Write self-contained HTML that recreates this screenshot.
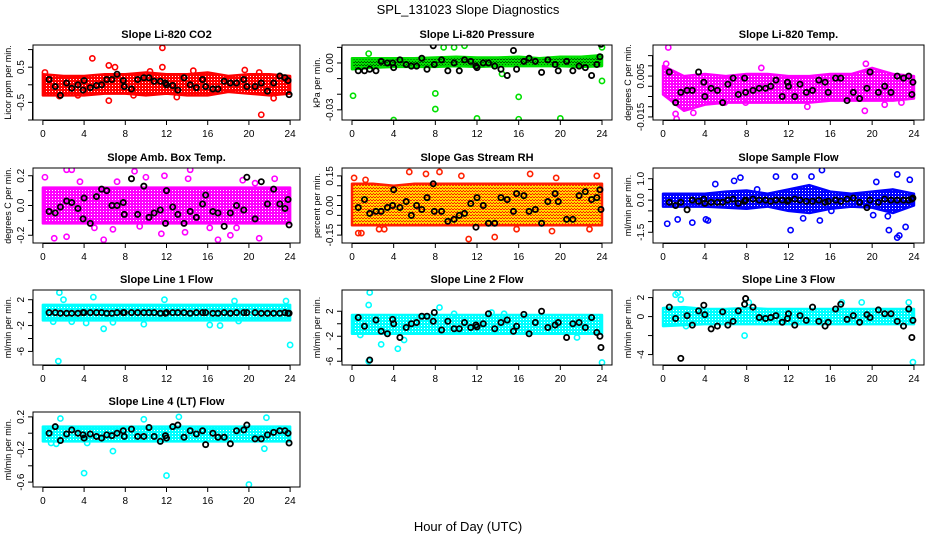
<!DOCTYPE html>
<html><head><meta charset="utf-8">
<style>
html,body{margin:0;padding:0;background:#fff;}
svg{display:block;font-family:"Liberation Sans",sans-serif;}
</style></head>
<body>
<svg id="chart" width="936" height="540" viewBox="0 0 936 540" xmlns="http://www.w3.org/2000/svg">
<text x="468" y="14" text-anchor="middle" font-size="13">SPL_131023  Slope Diagnostics</text>
<text x="468" y="531" text-anchor="middle" font-size="13">Hour of Day (UTC)</text>
</svg>
<script>
// shared data
const bandHours = [0,2,4,6,8,10,12,14,16,18,20,22,24];
const blackX = [0.6,1.2,1.7,2.3,2.8,3.4,3.9,4.0,4.6,5.2,5.7,6.2,6.7,7.2,7.8,7.9,8.6,9.2,9.8,10.3,10.8,11.4,11.9,12.0,12.6,13.1,13.7,14.3,14.9,15.5,15.8,16.5,17.0,17.6,18.2,18.8,19.5,19.8,20.6,21.2,21.8,22.4,23.0,23.5,23.8,23.9];
const xTicks = [0,4,8,12,16,20,24];

// Panel 1: CO2
const co2Lo = [-0.3,-0.3,-0.3,-0.25,-0.25,-0.3,-0.25,-0.3,-0.3,-0.2,-0.25,-0.3,-0.25];
const co2Hi = [0.3,0.25,0.25,0.3,0.3,0.35,0.3,0.3,0.35,0.25,0.3,0.3,0.25];
const co2OutX = [4.8,11.6,11.6,6.4,21.2,22.4,6.4,0.2,13,14.6,19.6,21,10.4,7,1.6,8.8,3.4];
const co2OutY = [0.75,1.05,0.5,-0.45,-0.85,-0.38,0.55,0.35,-0.35,0.4,0.42,0.35,0.38,0.5,-0.32,-0.3,-0.3];
const co2BlackY = [0.15,-0.05,-0.3,0.05,-0.1,0.0,-0.15,0.12,-0.08,-0.02,0.0,0.15,0.15,0.3,0.12,-0.05,-0.12,0.15,0.2,0.2,0.1,0.1,0.05,0.0,-0.02,-0.15,0.2,0.0,-0.08,0.15,-0.05,-0.12,-0.12,0.1,0.05,0.05,0.15,-0.05,-0.05,0.05,-0.18,0.05,0.25,0.2,0.12,-0.28];
const co2Ticks = [-1,-0.5,0,0.5,1];
const co2TickLabels = ["","-0.5","","0.5",""];

// Panel 2: Pressure
const prLo = [-0.004,-0.003,-0.0025,-0.0025,-0.0025,-0.002,-0.0025,-0.002,-0.002,-0.002,-0.002,-0.0025,-0.002];
const prHi = [0.003,0.003,0.003,0.003,0.0035,0.004,0.0035,0.0035,0.004,0.003,0.004,0.004,0.005];
const prOutX = [0.1,4,8,8,12,16,16,20,24,24,10.8,9.8,8.8,14.4,1.6];
const prOutY = [-0.021,-0.0365,-0.0295,-0.0195,-0.0355,-0.0217,-0.036,-0.0355,-0.0115,0.01,0.011,0.01,0.01,-0.007,0.006];
const prBlackY = [-0.005,-0.005,-0.004,-0.005,0.001,0.0,0.0,-0.003,0.002,-0.001,-0.002,-0.002,0.003,-0.004,0.011,-0.001,0.002,-0.005,0.0,-0.005,0.002,0.001,-0.002,-0.003,0.0,0.0,-0.002,-0.004,-0.008,0.008,-0.004,0.001,0.003,0.001,-0.006,0.002,-0.001,-0.005,0.001,-0.005,-0.002,-0.003,-0.008,-0.001,0.004,0.012];
const prTicks = [0.01,0,-0.01,-0.02,-0.03];
const prTickLabels = ["","0.00","","","-0.03"];

// Panel 3: Li-820 Temp
const ltLo = [-0.004,-0.012,-0.009,-0.008,-0.008,-0.008,-0.008,-0.008,-0.007,-0.007,-0.007,-0.007,-0.006];
const ltHi = [0.01,0.005,0.006,0.005,0.006,0.006,0.005,0.005,0.006,0.006,0.009,0.006,0.005];
const ltOutX = [0.5,0.3,1.2,1.3,2.9,9.4,13.8,19.3,19.4,21.2,22.8,7.9,5.9];
const ltOutY = [0.019,0.011,-0.0135,-0.016,-0.013,0.009,-0.010,-0.012,0.011,-0.009,-0.008,-0.008,-0.008];
const ltBlackY = [0.007,-0.008,-0.003,-0.002,-0.002,0.007,0.002,-0.005,-0.001,-0.002,-0.008,0.001,0.004,-0.004,0.004,-0.003,-0.002,-0.001,-0.001,0.0,0.003,-0.005,0.002,0.0,-0.005,0.001,-0.003,-0.002,0.003,0.002,-0.003,0.004,0.004,-0.007,-0.003,-0.006,-0.001,0.007,-0.003,0.0,-0.003,0.005,0.004,0.005,-0.004,0.002];
const ltTicks = [0.015,0.01,0.005,0,-0.005,-0.01,-0.015];
const ltTickLabels = ["","","0.005","","","","-0.015"];

// Panel 4: Amb Box Temp
const abLo = [-0.12,-0.12,-0.12,-0.12,-0.12,-0.12,-0.12,-0.12,-0.12,-0.12,-0.12,-0.12,-0.12];
const abHi = [0.12,0.12,0.12,0.12,0.12,0.12,0.12,0.12,0.12,0.12,0.12,0.12,0.12];
const abOutX = [0.2,1.1,2.3,2.8,2.3,5.9,6.8,8.9,10,11.8,14.3,14.1,13.8,11.5,17,18.2,21,22.5,19.4,9.4,3.6,5.0,7.2,16.2,18.8,20.6];
const abOutY = [0.19,-0.22,0.24,0.24,-0.21,-0.23,-0.16,0.23,0.19,0.2,0.24,0.18,-0.18,-0.19,-0.23,-0.2,-0.22,0.18,0.17,-0.14,0.16,-0.15,0.16,-0.15,-0.15,0.15];
const abBlackY = [-0.04,-0.05,-0.01,0.03,0.02,-0.02,-0.09,0.05,-0.12,0.06,0.11,0.1,0.0,0.0,0.02,-0.06,0.18,-0.06,0.13,-0.08,-0.05,-0.03,-0.12,0.1,-0.01,-0.06,-0.12,-0.04,-0.08,0.01,0.07,-0.04,-0.05,-0.14,-0.05,0.0,-0.03,0.19,-0.09,0.16,0.01,0.11,0.01,-0.02,0.04,-0.13];
const abTicks = [0.2,0.1,0,-0.1,-0.2];
const abTickLabels = ["0.2","","0.0","","-0.2"];

// Panel 5: Gas Stream RH
const rhLo = [-0.1,-0.1,-0.1,-0.1,-0.1,-0.1,-0.1,-0.1,-0.1,-0.1,-0.1,-0.1,-0.1];
const rhHi = [0.11,0.11,0.1,0.11,0.11,0.11,0.11,0.11,0.11,0.11,0.11,0.11,0.11];
const rhOutX = [0.2,0.6,0.9,1.3,2.6,5.5,7.1,8.4,10.5,11.2,13.7,17.1,19.2,19.6,22.8,23.5,15.8,3.1];
const rhOutY = [0.14,-0.14,-0.14,0.13,-0.12,0.17,0.16,0.17,0.15,-0.17,-0.16,0.16,-0.13,0.14,-0.12,0.15,-0.12,-0.12];
const rhBlackY = [-0.01,0.03,-0.04,-0.03,-0.03,-0.01,0.0,0.08,-0.01,0.02,-0.05,0.0,-0.02,0.04,0.11,-0.03,-0.03,-0.08,-0.07,-0.05,-0.04,0.01,-0.11,0.04,0.0,-0.09,-0.09,0.04,0.03,-0.03,0.06,0.05,-0.03,-0.02,-0.09,0.02,0.06,0.02,-0.07,-0.07,0.05,0.07,0.03,0.04,0.08,-0.02];
const rhTicks = [0.15,0.1,0.05,0,-0.05,-0.1,-0.15];
const rhTickLabels = ["0.15","","","0.00","","","-0.15"];

// Panel 6: Sample Flow
const sfLo = [-0.3,-0.3,-0.3,-0.35,-0.4,-0.3,-0.5,-0.6,-0.4,-0.3,-0.35,-0.6,-0.25];
const sfHi = [0.3,0.3,0.3,0.4,0.45,0.3,0.5,0.7,0.4,0.3,0.4,0.5,0.3];
const sfOutX = [0.4,1.4,2.8,7.4,6.8,5,10.8,12.6,14.2,15.2,12.2,15,13.4,20.4,21.6,22.4,22.4,22.6,23.2,23.6,20.1,21.5,4.1,4.3,16.1,9];
const sfOutY = [-1.1,-0.9,-1.05,1.05,0.9,0.75,1.1,1.1,1.1,1.4,-1.4,-0.95,-0.85,0.85,-1.4,1.2,-1.75,-1.65,-1.25,0.95,-0.7,-0.75,-0.9,-0.95,-0.5,0.5];
const sfBlackY = [-0.1,-0.25,-0.1,-0.45,0.0,-0.05,0.05,-0.15,-0.1,-0.1,-0.1,0.0,0.05,-0.15,-0.05,0.0,0.05,0.0,0.0,-0.05,0.0,0.0,-0.05,0.0,0.05,0.0,-0.05,-0.05,0.0,-0.1,-0.05,0.0,-0.05,0.05,0.1,-0.1,-0.35,0.0,-0.1,0.05,0.0,0.0,0.0,0.0,0.05,0.1];
const sfTicks = [1.0,0.5,0,-0.5,-1,-1.5];
const sfTickLabels = ["1.0","","0.0","","","-1.5"];

// Panel 7: Line 1 Flow
const l1Lo = [-1.2,-1.2,-1.2,-1.2,-1.2,-1.2,-1.2,-1.2,-1.2,-1.2,-1.2,-1.2,-1.2];
const l1Hi = [1.2,1.2,1.2,1.2,1.2,1.2,1.2,1.2,1.2,1.2,1.2,1.2,1.2];
const l1OutX = [1.5,1.6,2,4.9,5.9,11.8,16.2,17.2,24,9.8,1,2.8,4.2,6.8,23.6,18.6,19];
const l1OutY = [-7.5,3.1,2.0,2.4,-2.5,2,-1.9,-2.0,-5.0,-1.8,-1.4,-1.4,-1.6,-1.5,1.8,1.8,-1.3];
const l1BlackY = [0,0,-0.1,-0.1,-0.1,-0.1,0,0,0,0,0,-0.1,-0.1,0,0,0,0,0,0,0,0,-0.1,-0.1,0,0,0,0,-0.1,0,0,0,-0.1,-0.1,0,-0.1,0,0,0,0,-0.1,-0.1,-0.1,-0.1,0,-0.1,-0.1];
const l1Ticks = [2,0,-2,-4,-6];
const l1TickLabels = ["2","","-2","","-6"];

// Panel 8: Line 2 Flow
const l2Lo = [-1.6,-1.6,-1.6,-1.6,-1.6,-1.6,-1.6,-1.6,-1.6,-1.6,-1.6,-1.6,-1.6];
const l2Hi = [1.4,1.4,1.4,1.4,1.4,1.4,1.4,1.4,1.4,1.4,1.4,1.4,1.4];
const l2OutX = [1.7,1.6,1.6,24,2.8,4.4,5,8.4,13.4,9.8,14.6,0.8,21.6];
const l2OutY = [5.0,3.0,-6.0,-6.2,-3.3,-4.0,-2.6,2.6,1.8,1.6,1.6,-1.8,-2.2];
const l2BlackY = [1.0,-0.4,-5.8,0.6,-1.2,-1.6,0.7,0.0,-2.2,-0.6,0.0,0.2,1.2,1.2,0.4,1.8,-1.0,0.4,-0.8,-0.8,0.2,-0.6,-0.2,-0.5,0.0,1.6,-0.8,0.2,0.6,-1.2,-0.4,1.5,-1.6,0.2,2.0,-0.6,-0.2,0.2,-2.2,0.0,0.2,-0.6,1.0,-1.4,-2.0,-3.8];
const l2Ticks = [2,0,-2,-4,-6];
const l2TickLabels = ["2","","-2","","-6"];

// Panel 9: Line 3 Flow
const l3Lo = [-1.0,-0.9,-0.8,-0.8,-0.8,-0.8,-0.8,-0.8,-0.8,-0.8,-0.8,-0.8,-0.8];
const l3Hi = [0.9,1.0,0.8,0.8,0.9,0.8,0.8,0.8,0.8,0.8,0.8,0.8,0.8];
const l3OutX = [1.4,1.7,1.2,7.8,23.9,8.2,17.1,2.2,19,23.5];
const l3OutY = [2.5,1.8,2.3,-2.0,-4.8,1.5,1.5,-1.0,1.5,1.5];
const l3BlackY = [1.0,-0.2,-4.4,0.1,-0.9,0.6,1.2,0.2,-1.3,-1.0,0.5,-0.9,-0.5,0.6,1.3,1.9,1.0,-0.1,-0.2,-0.1,0.1,-0.6,-0.2,0.3,-0.9,0.1,-0.4,1.0,-0.5,-1.0,-0.6,0.8,1.3,-0.3,0.1,-0.6,0.2,-0.1,0.7,0.3,0.3,-0.5,-1.0,0.8,-2.2,-0.4];
const l3Ticks = [2,0,-2,-4];
const l3TickLabels = ["2","0","","-4"];

// Panel 10: Line 4 (LT) Flow
const l4Lo = [-0.1,-0.1,-0.1,-0.1,-0.1,-0.1,-0.1,-0.1,-0.1,-0.1,-0.1,-0.1,-0.1];
const l4Hi = [0.08,0.08,0.08,0.08,0.08,0.08,0.08,0.08,0.08,0.08,0.08,0.08,0.08];
const l4OutX = [4,12,20,13.2,21.7,1.7,9.8,6.8,21.5,4.3,1.3,0.8];
const l4OutY = [-0.49,-0.52,-0.63,0.2,0.19,0.18,0.17,-0.22,-0.19,-0.12,-0.13,-0.12];
const l4BlackY = [0.0,0.08,-0.09,-0.01,0.04,0.0,-0.02,-0.06,-0.01,-0.04,-0.06,-0.02,-0.03,0.0,0.03,-0.04,0.05,-0.04,-0.04,0.07,-0.04,-0.1,-0.03,-0.06,0.08,0.1,-0.05,0.03,-0.01,0.03,-0.14,0.0,-0.05,-0.05,-0.13,0.03,0.04,0.1,-0.07,-0.07,-0.02,0.01,0.03,0.03,0.0,-0.12];
const l4Ticks = [0.2,0,-0.2,-0.4,-0.6];
const l4TickLabels = ["0.2","","-0.2","","-0.6"];

const NS = "http://www.w3.org/2000/svg";
const svg = document.getElementById("chart");
function mk(tag, attrs, parent){
  const e = document.createElementNS(NS, tag);
  for (const k in attrs) e.setAttribute(k, attrs[k]);
  (parent||svg).appendChild(e);
  return e;
}
const defs = mk("defs", {});
const colLeft = [33, 342, 653];
const colW = [267, 270, 271];
const rowTop = [45, 168, 290, 412];
const plotH = 75;

const panels = [
 {t:"Slope Li-820 CO2", yl:"Licor ppm per min.", c:0,r:0, ylim:[-1.0,1.13], lo:co2Lo, hi:co2Hi, ox:co2OutX, oy:co2OutY, by:co2BlackY, tk:co2Ticks, tl:co2TickLabels, col:"#ff0000", base:"#ff0000", d1:"#ffffff", d2:"#ff0000"},
 {t:"Slope Li-820 Pressure", yl:"kPa per min.", c:1,r:0, ylim:[-0.0365,0.0115], lo:prLo, hi:prHi, ox:prOutX, oy:prOutY, by:prBlackY, tk:prTicks, tl:prTickLabels, col:"#00e000", base:"#00e000", d1:"#006000", d2:"#006000"},
 {t:"Slope Li-820 Temp.", yl:"degrees C per min.", c:2,r:0, ylim:[-0.0165,0.0202], lo:ltLo, hi:ltHi, ox:ltOutX, oy:ltOutY, by:ltBlackY, tk:ltTicks, tl:ltTickLabels, col:"#ff00ff", base:"#ff00ff", d1:"#ffffff", d2:"#ff00ff"},
 {t:"Slope Amb. Box Temp.", yl:"degrees C per min.", c:0,r:1, ylim:[-0.252,0.252], lo:abLo, hi:abHi, ox:abOutX, oy:abOutY, by:abBlackY, tk:abTicks, tl:abTickLabels, col:"#ff00ff", base:"#ff00ff", d1:"#ffffff", d2:"#ff00ff"},
 {t:"Slope Gas Stream RH", yl:"percent per min.", c:1,r:1, ylim:[-0.19,0.19], lo:rhLo, hi:rhHi, ox:rhOutX, oy:rhOutY, by:rhBlackY, tk:rhTicks, tl:rhTickLabels, col:"#ff2000", base:"#ffd800", d1:"#ff2000", d2:"#ff2000"},
 {t:"Slope Sample Flow", yl:"ml/min per min.", c:2,r:1, ylim:[-2.0,1.5], lo:sfLo, hi:sfHi, ox:sfOutX, oy:sfOutY, by:sfBlackY, tk:sfTicks, tl:sfTickLabels, col:"#0000ff", base:"#0000ff", d1:"#ffffff", d2:"#0000ff"},
 {t:"Slope Line 1 Flow", yl:"ml/min per min.", c:0,r:2, ylim:[-8.1,3.5], lo:l1Lo, hi:l1Hi, ox:l1OutX, oy:l1OutY, by:l1BlackY, tk:l1Ticks, tl:l1TickLabels, col:"#00ffff", base:"#00ffff", d1:"#ffffff", d2:"#00ffff"},
 {t:"Slope Line 2 Flow", yl:"ml/min per min.", c:1,r:2, ylim:[-6.6,5.4], lo:l2Lo, hi:l2Hi, ox:l2OutX, oy:l2OutY, by:l2BlackY, tk:l2Ticks, tl:l2TickLabels, col:"#00ffff", base:"#00ffff", d1:"#ffffff", d2:"#00ffff"},
 {t:"Slope Line 3 Flow", yl:"ml/min per min.", c:2,r:2, ylim:[-5.1,2.8], lo:l3Lo, hi:l3Hi, ox:l3OutX, oy:l3OutY, by:l3BlackY, tk:l3Ticks, tl:l3TickLabels, col:"#00ffff", base:"#00ffff", d1:"#ffffff", d2:"#00ffff"},
 {t:"Slope Line 4 (LT) Flow", yl:"ml/min per min.", c:0,r:3, ylim:[-0.66,0.26], lo:l4Lo, hi:l4Hi, ox:l4OutX, oy:l4OutY, by:l4BlackY, tk:l4Ticks, tl:l4TickLabels, col:"#00ffff", base:"#00ffff", d1:"#ffffff", d2:"#00ffff"}
];

panels.forEach((p, i) => {
  const L = colLeft[p.c], W = colW[p.c], T = rowTop[p.r], H = plotH;
  const pat = mk("pattern", {id:"pat"+i, width:3, height:3, patternUnits:"userSpaceOnUse"}, defs);
  mk("rect", {x:0, y:0, width:3, height:3, fill:p.base}, pat);
  mk("rect", {x:1, y:1, width:1, height:1, fill:p.d1}, pat);
  mk("rect", {x:2, y:2, width:1, height:1, fill:p.d2}, pat);
  mk("rect", {x:0, y:2, width:1, height:1, fill:p.d2}, pat);
  const g = mk("g", {});
  
  
  const xs = v => L + (v + 0.96) / 25.92 * W;
  const ys = v => T + H - (v - p.ylim[0]) / (p.ylim[1] - p.ylim[0]) * H;
  const clipId = "clip" + i;
  const cp = mk("clipPath", {id: clipId}, g);
  mk("rect", {x:L, y:T, width:W, height:H}, cp);
  const data = mk("g", {"clip-path":"url(#"+clipId+")"}, g);
  let pts = [];
  bandHours.forEach((h,k) => pts.push(xs(h)+","+ys(p.hi[k])));
  for (let k = bandHours.length-1; k >= 0; k--) pts.push(xs(bandHours[k])+","+ys(p.lo[k]));
  const band = mk("polygon", {points: pts.join(" "), fill: "url(#pat"+i+")", stroke: p.col, "stroke-width": 2.5, "stroke-linejoin":"round"}, data);
  
  
  p.ox.forEach((x,k) => {
    const c = mk("circle", {cx: xs(x), cy: ys(p.oy[k]), r: 2.6, fill: "none", stroke: p.col, "stroke-width": 1.6}, data);
    
    
  });
  const n = Math.min(blackX.length, p.by.length);
  for (let k = 0; k < n; k++) {
    const c = mk("circle", {cx: xs(blackX[k]), cy: ys(p.by[k]), r: 2.6, fill: "none", stroke: "#000", "stroke-width": 1.8}, data);
    
    
  }
  const fr = mk("rect", {x:L, y:T, width:W, height:H, fill:"none", stroke:"#000", "stroke-width":1}, g);
  
  
  const tt = mk("text", {x: L + W/2, y: T - 7, "text-anchor":"middle", "font-size": 11, "font-weight":"bold"}, g);
  tt.textContent = p.t;
  
  
  const xa = mk("g", {}, g);
  
  
  mk("line", {x1: xs(0), x2: xs(24), y1: T+H+0.5, y2: T+H+0.5, stroke:"#000"}, xa);
  xTicks.forEach(v => {
    mk("line", {x1: xs(v), x2: xs(v), y1: T+H, y2: T+H+5, stroke:"#000"}, xa);
    const tx = mk("text", {x: xs(v), y: T+H+17, "text-anchor":"middle", "font-size": 10}, xa);
    tx.textContent = v;
  });
  const ya = mk("g", {}, g);
  
  
  const yIn = p.tk.filter(v => v >= p.ylim[0] && v <= p.ylim[1]);
  mk("line", {x1: L-0.5, x2: L-0.5, y1: ys(Math.max(...yIn)), y2: ys(Math.min(...yIn)), stroke:"#000"}, ya);
  p.tk.forEach((v,k) => {
    if (v < p.ylim[0] || v > p.ylim[1]) return;
    mk("line", {x1: L-5, x2: L, y1: ys(v), y2: ys(v), stroke:"#000"}, ya);
    if (p.tl[k]) {
      const tx = mk("text", {x: L-9, y: ys(v), "text-anchor":"middle", "font-size": 10, transform: "rotate(-90 "+(L-9)+" "+ys(v)+")"}, ya);
      tx.textContent = p.tl[k];
    }
  });
  const yt = mk("text", {x: L-22, y: T+H/2, "text-anchor":"middle", "font-size": 9, transform: "rotate(-90 "+(L-22)+" "+(T+H/2)+")"}, g);
  yt.textContent = p.yl;
  
  
});
</script>
</body></html>
